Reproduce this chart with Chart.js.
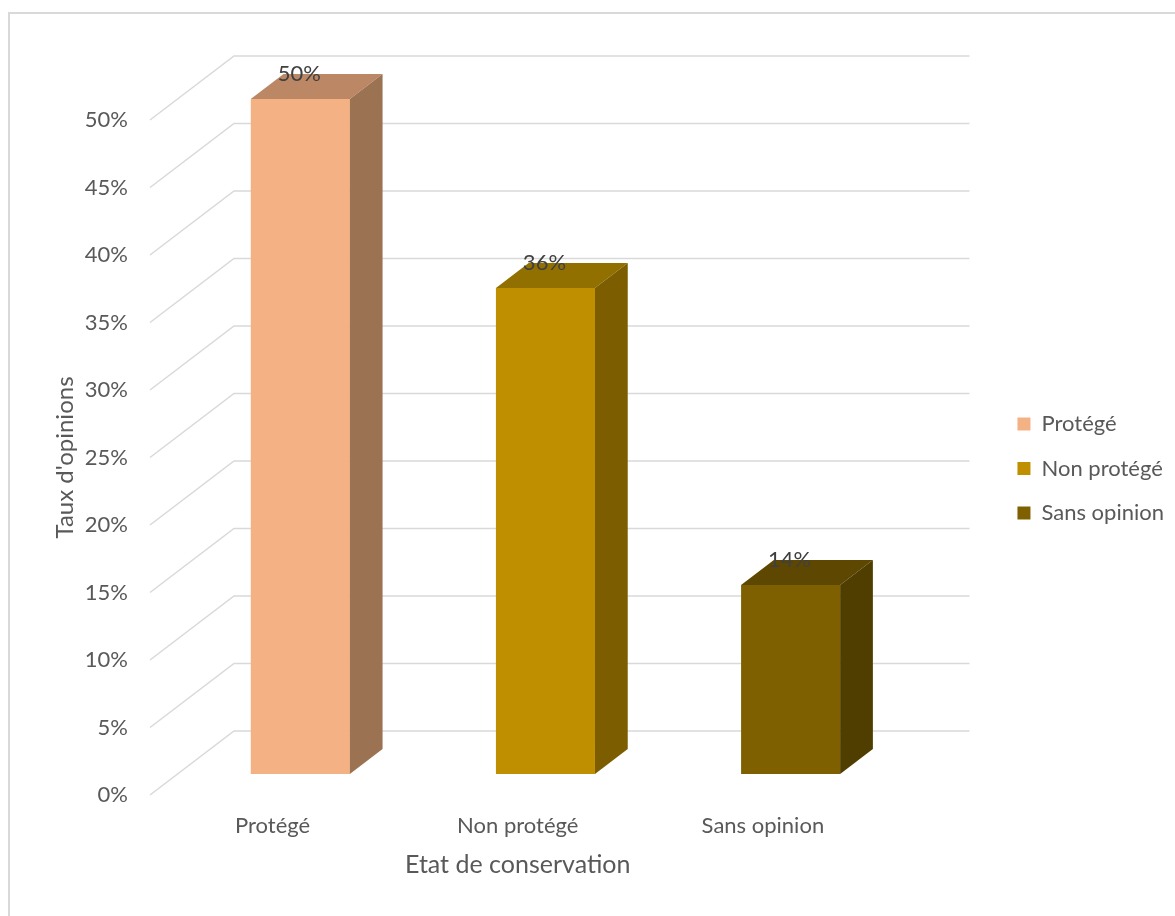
<!DOCTYPE html>
<html>
<head>
<meta charset="utf-8">
<script src="https://cdn.jsdelivr.net/npm/chart.js@4.4.1/dist/chart.umd.min.js"></script>
<style>
  html, body { margin: 0; padding: 0; background: #ffffff; }
  #wrap { width: 1175px; height: 916px; position: relative; }
</style>
</head>
<body>
<div id="wrap"><canvas id="c" width="1175" height="916"></canvas></div>
<script>
// ---- data ----
const categories = ['Protégé', 'Non protégé', 'Sans opinion'];
const values = [50, 36, 14];
const yTickValues = [0, 5, 10, 15, 20, 25, 30, 35, 40, 45, 50];
const xTitle = 'Etat de conservation';
const yTitle = "Taux d'opinions";

// ---- styles ----
const frontColors = ['#F4B183', '#BF8F00', '#7F6000'];
const topColors   = ['#BB8764', '#917000', '#5E4700'];
const sideColors  = ['#9B7353', '#7C5E00', '#503D00'];
const textColor = '#595959';
const labelColor = '#404040';
const gridColor = '#D9D9D9';
const FONT = 'Lato';

// 3D geometry (screen offsets for depth)
const WALL_DX = 84, WALL_DY = -64;       // depth of the back wall
const BAR_FRONT = 0.33, BAR_BACK = 0.72; // bar placement along depth

const threeD = {
  id: 'threeD',
  beforeDraw(chart) {
    const ctx = chart.ctx;
    ctx.save();
    ctx.fillStyle = '#ffffff';
    ctx.fillRect(0, 0, chart.width, chart.height);
    ctx.strokeStyle = gridColor;
    ctx.lineWidth = 2;
    ctx.beginPath();
    ctx.moveTo(9, chart.height + 5);
    ctx.lineTo(9, 13);
    ctx.lineTo(chart.width + 5, 13);
    ctx.stroke();
    ctx.restore();
  },
  afterLayout(chart) {
    // nudge legend down to match reference vertical placement
    const lg = chart.legend;
    if (lg) { lg.top += 11; lg.bottom += 11; lg.left -= 1; lg.right -= 1; }
  },
  beforeDatasetsDraw(chart) {
    const ctx = chart.ctx;
    const ys = chart.scales.y;
    const a = chart.chartArea;
    ctx.save();
    ctx.strokeStyle = gridColor;
    ctx.lineWidth = 1.5;
    yTickValues.forEach(v => {
      const y = ys.getPixelForValue(v);
      ctx.beginPath();
      ctx.moveTo(a.left, y);
      ctx.lineTo(a.left + WALL_DX, y + WALL_DY);
      ctx.lineTo(a.right + WALL_DX, y + WALL_DY);
      ctx.stroke();
    });
    ctx.restore();
    ctx.save();
    ctx.translate(WALL_DX * BAR_FRONT, WALL_DY * BAR_FRONT);
  },
  afterDatasetsDraw(chart) {
    const ctx = chart.ctx;
    const ddx = WALL_DX * (BAR_BACK - BAR_FRONT);
    const ddy = WALL_DY * (BAR_BACK - BAR_FRONT);
    const meta = chart.getDatasetMeta(0);
    meta.data.forEach((bar, i) => {
      const p = bar.getProps(['x', 'y', 'base', 'width'], true);
      const l = p.x - p.width / 2, r = p.x + p.width / 2;
      // top face
      ctx.fillStyle = topColors[i];
      ctx.beginPath();
      ctx.moveTo(l, p.y);
      ctx.lineTo(l + ddx, p.y + ddy);
      ctx.lineTo(r + ddx, p.y + ddy);
      ctx.lineTo(r, p.y);
      ctx.closePath();
      ctx.fill();
      // side face
      ctx.fillStyle = sideColors[i];
      ctx.beginPath();
      ctx.moveTo(r, p.y);
      ctx.lineTo(r + ddx, p.y + ddy);
      ctx.lineTo(r + ddx, p.base + ddy);
      ctx.lineTo(r, p.base);
      ctx.closePath();
      ctx.fill();
    });
    // value labels
    ctx.fillStyle = labelColor;
    ctx.font = '22px ' + FONT;
    ctx.textAlign = 'center';
    ctx.textBaseline = 'middle';
    meta.data.forEach((bar, i) => {
      const p = bar.getProps(['x', 'y'], true);
      ctx.fillText(values[i] + '%', p.x - 1, p.y - 25);
    });
    ctx.restore();
  }
};

function draw() {
  new Chart(document.getElementById('c'), {
    type: 'bar',
    data: {
      labels: categories,
      datasets: [{
        label: 'Taux',
        data: values,
        yAxisID: 'y',
        backgroundColor: frontColors,
        borderWidth: 0,
        barPercentage: 1,
        categoryPercentage: 0.404,
        clip: false
      }]
    },
    options: {
      responsive: false,
      animation: false,
      devicePixelRatio: 1,
      layout: { padding: { left: 0, top: 120, right: 0, bottom: 0 } },
      plugins: {
        tooltip: { enabled: false },
        legend: {
          display: true,
          position: 'right',
          fullSize: false,
          labels: {
            boxWidth: 13,
            boxHeight: 13,
            padding: 22.5,
            color: textColor,
            font: { family: FONT, size: 22 },
            generateLabels: () => categories.map((c, i) => ({
              text: c,
              fillStyle: frontColors[i],
              strokeStyle: frontColors[i],
              lineWidth: 0,
              hidden: false,
              index: i,
              fontColor: textColor
            }))
          }
        }
      },
      scales: {
        x: {
          grid: { display: false, drawTicks: false },
          border: { display: false },
          ticks: { color: textColor, font: { family: FONT, size: 22 }, padding: 18 },
          title: { display: true, text: xTitle, color: textColor, font: { family: FONT, size: 25 }, padding: { top: 0, bottom: 36 } },
          afterFit: s => { s.height = 121; }
        },
        y: {
          min: 0, max: 50,
          grid: { display: false, drawTicks: false },
          border: { display: false },
          afterBuildTicks: s => { s.ticks = yTickValues.map(v => ({ value: v })); },
          ticks: { color: textColor, font: { family: FONT, size: 22 }, padding: 22, callback: v => v + '%' },
          title: { display: true, text: yTitle, color: textColor, font: { family: FONT, size: 24 }, padding: { top: 51, bottom: 0 } },
          afterFit: s => { s.width = 150; }
        },
        gap: {
          type: 'linear',
          position: 'right',
          display: true,
          grid: { display: false, drawTicks: false },
          border: { display: false },
          ticks: { display: false },
          afterFit: s => { s.width = 110.5; }
        }
      }
    },
    plugins: [threeD]
  });
}

if (document.fonts && document.fonts.load) {
  document.fonts.load('22px ' + FONT).then(draw, draw);
} else { draw(); }
</script>
</body>
</html>
